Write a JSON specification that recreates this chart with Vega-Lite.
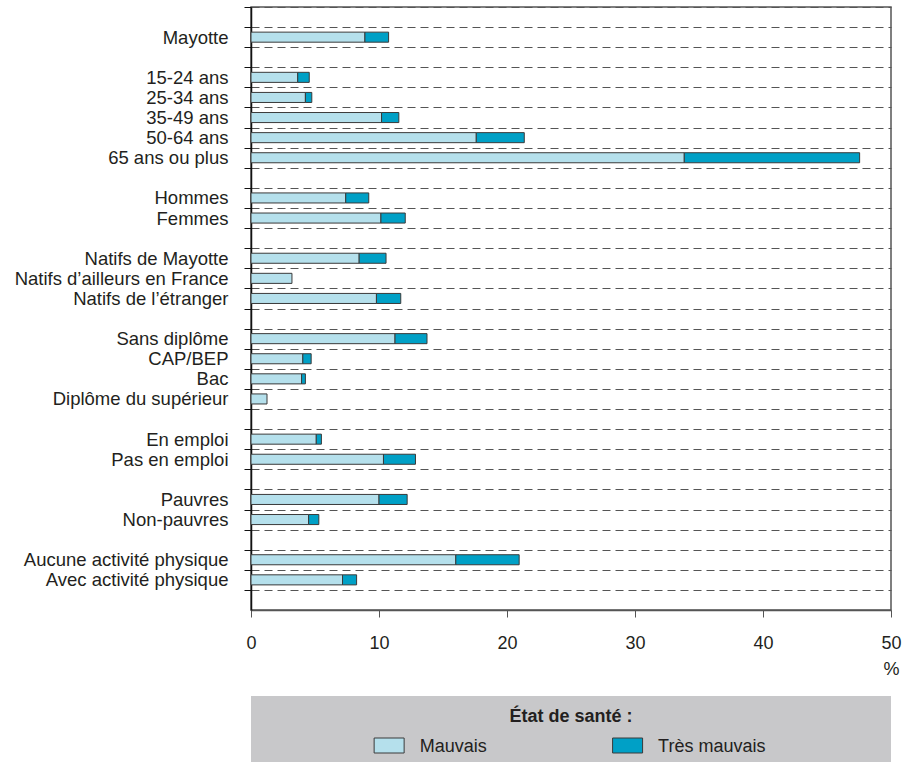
{
  "$schema": "https://vega.github.io/schema/vega-lite/v6.json",
  "autosize": {"type": "pad"},
  "padding": {"left": 13, "top": 5, "right": 0, "bottom": 0},
  "bounds": "flush",
  "spacing": 86,
  "config": {
    "font": "Liberation Sans",
    "text": {"font": "Liberation Sans"}
  },
  "vconcat": [
    {
      "width": 640,
      "height": 603,
      "view": {"stroke": "#555555", "strokeWidth": 1.5},
      "data": {
        "values": [
          {"categorie": "Mayotte", "etat": "Mauvais", "valeur": 8.9},
          {"categorie": "Mayotte", "etat": "Très mauvais", "valeur": 1.85},
          {"categorie": "15-24 ans", "etat": "Mauvais", "valeur": 3.65},
          {"categorie": "15-24 ans", "etat": "Très mauvais", "valeur": 0.9},
          {"categorie": "25-34 ans", "etat": "Mauvais", "valeur": 4.25},
          {"categorie": "25-34 ans", "etat": "Très mauvais", "valeur": 0.5},
          {"categorie": "35-49 ans", "etat": "Mauvais", "valeur": 10.2},
          {"categorie": "35-49 ans", "etat": "Très mauvais", "valeur": 1.35},
          {"categorie": "50-64 ans", "etat": "Mauvais", "valeur": 17.6},
          {"categorie": "50-64 ans", "etat": "Très mauvais", "valeur": 3.75},
          {"categorie": "65 ans ou plus", "etat": "Mauvais", "valeur": 33.85},
          {"categorie": "65 ans ou plus", "etat": "Très mauvais", "valeur": 13.7},
          {"categorie": "Hommes", "etat": "Mauvais", "valeur": 7.4},
          {"categorie": "Hommes", "etat": "Très mauvais", "valeur": 1.8},
          {"categorie": "Femmes", "etat": "Mauvais", "valeur": 10.15},
          {"categorie": "Femmes", "etat": "Très mauvais", "valeur": 1.9},
          {"categorie": "Natifs de Mayotte", "etat": "Mauvais", "valeur": 8.45},
          {"categorie": "Natifs de Mayotte", "etat": "Très mauvais", "valeur": 2.1},
          {"categorie": "Natifs d’ailleurs en France", "etat": "Mauvais", "valeur": 3.2},
          {"categorie": "Natifs de l’étranger", "etat": "Mauvais", "valeur": 9.8},
          {"categorie": "Natifs de l’étranger", "etat": "Très mauvais", "valeur": 1.9},
          {"categorie": "Sans diplôme", "etat": "Mauvais", "valeur": 11.25},
          {"categorie": "Sans diplôme", "etat": "Très mauvais", "valeur": 2.5},
          {"categorie": "CAP/BEP", "etat": "Mauvais", "valeur": 4.05},
          {"categorie": "CAP/BEP", "etat": "Très mauvais", "valeur": 0.65},
          {"categorie": "Bac", "etat": "Mauvais", "valeur": 3.95},
          {"categorie": "Bac", "etat": "Très mauvais", "valeur": 0.3},
          {"categorie": "Diplôme du supérieur", "etat": "Mauvais", "valeur": 1.25},
          {"categorie": "En emploi", "etat": "Mauvais", "valeur": 5.1},
          {"categorie": "En emploi", "etat": "Très mauvais", "valeur": 0.4},
          {"categorie": "Pas en emploi", "etat": "Mauvais", "valeur": 10.35},
          {"categorie": "Pas en emploi", "etat": "Très mauvais", "valeur": 2.5},
          {"categorie": "Pauvres", "etat": "Mauvais", "valeur": 10.0},
          {"categorie": "Pauvres", "etat": "Très mauvais", "valeur": 2.2},
          {"categorie": "Non-pauvres", "etat": "Mauvais", "valeur": 4.5},
          {"categorie": "Non-pauvres", "etat": "Très mauvais", "valeur": 0.8},
          {"categorie": "Aucune activité physique", "etat": "Mauvais", "valeur": 16.0},
          {"categorie": "Aucune activité physique", "etat": "Très mauvais", "valeur": 4.95},
          {"categorie": "Avec activité physique", "etat": "Mauvais", "valeur": 7.15},
          {"categorie": "Avec activité physique", "etat": "Très mauvais", "valeur": 1.1}
        ]
      },
      "mark": {"type": "bar", "stroke": "#3a3a3a", "strokeWidth": 1},
      "encoding": {
        "y": {
          "field": "categorie",
          "type": "nominal",
          "sort": null,
          "scale": {
            "domain": ["_0", "Mayotte", "_2", "15-24 ans", "25-34 ans", "35-49 ans", "50-64 ans", "65 ans ou plus", "_8", "Hommes", "Femmes", "_11", "Natifs de Mayotte", "Natifs d’ailleurs en France", "Natifs de l’étranger", "_15", "Sans diplôme", "CAP/BEP", "Bac", "Diplôme du supérieur", "_20", "En emploi", "Pas en emploi", "_23", "Pauvres", "Non-pauvres", "_26", "Aucune activité physique", "Avec activité physique", "_29"],
            "paddingInner": 0.5,
            "paddingOuter": 0.25
          },
          "axis": {
            "title": null,
            "bandPosition": 0,
            "tickOffset": -5.025,
            "labelOffset": 5.025,
            "grid": true,
            "gridDash": [8, 5],
            "gridColor": "#555555",
            "gridWidth": 1,
            "domainColor": "#111111",
            "domainWidth": 1.5,
            "tickColor": "#111111",
            "tickSize": 7,
            "labelPadding": 16,
            "labelFontSize": 18.5,
            "labelColor": "#231f20",
            "labelLimit": 400,
            "labelOverlap": false,
            "labelExpr": "indexof(datum.value, '_') == 0 ? '' : datum.value"
          }
        },
        "x": {
          "field": "valeur",
          "type": "quantitative",
          "stack": "zero",
          "scale": {"domain": [0, 50], "nice": false},
          "axis": {
            "title": "%",
            "titleFontSize": 18,
            "titleFontWeight": "normal",
            "titleColor": "#231f20",
            "titleAnchor": "end",
            "titleAlign": "center",
            "titlePadding": 8,
            "values": [0, 10, 20, 30, 40, 50],
            "grid": false,
            "domainColor": "#555555",
            "domainWidth": 1.5,
            "tickColor": "#555555",
            "tickSize": 7,
            "labelPadding": 17,
            "labelFontSize": 18,
            "labelColor": "#231f20",
            "labelFlush": false,
            "labelOverlap": false
          }
        },
        "color": {
          "field": "etat",
          "type": "nominal",
          "scale": {"domain": ["Mauvais", "Très mauvais"], "range": ["#b5e0ec", "#00a0c6"]},
          "legend": null
        }
      }
    },
    {
      "width": 640,
      "height": 66,
      "view": {"fill": "#c8c8ca", "stroke": null},
      "layer": [
        {
          "data": {"values": [{"titre": "État de santé :"}]},
          "mark": {"type": "text", "align": "center", "baseline": "middle", "dy": -12, "fontSize": 18, "fontWeight": "bold", "color": "#231f20"},
          "encoding": {"text": {"field": "titre"}}
        },
        {
          "data": {"values": [{"etat": "Mauvais"}, {"etat": "Très mauvais"}]},
          "mark": {"type": "point", "shape": "M-1,-0.5H1V0.5H-1Z", "size": 900, "filled": true, "opacity": 1, "stroke": "#3a3a3a", "strokeWidth": 1, "yOffset": 16.5},
          "encoding": {
            "x": {"field": "etat", "type": "nominal", "sort": null, "scale": {"type": "point", "padding": 0.842, "align": 0.344}, "axis": null},
            "fill": {"field": "etat", "type": "nominal", "scale": {"domain": ["Mauvais", "Très mauvais"], "range": ["#b5e0ec", "#00a0c6"]}, "legend": null}
          }
        },
        {
          "data": {"values": [{"etat": "Mauvais"}, {"etat": "Très mauvais"}]},
          "mark": {"type": "text", "align": "left", "baseline": "middle", "dx": 30.5, "dy": 17.5, "fontSize": 18, "color": "#231f20"},
          "encoding": {
            "x": {"field": "etat", "type": "nominal", "sort": null, "scale": {"type": "point", "padding": 0.842, "align": 0.344}, "axis": null},
            "text": {"field": "etat"}
          }
        }
      ]
    }
  ]
}
